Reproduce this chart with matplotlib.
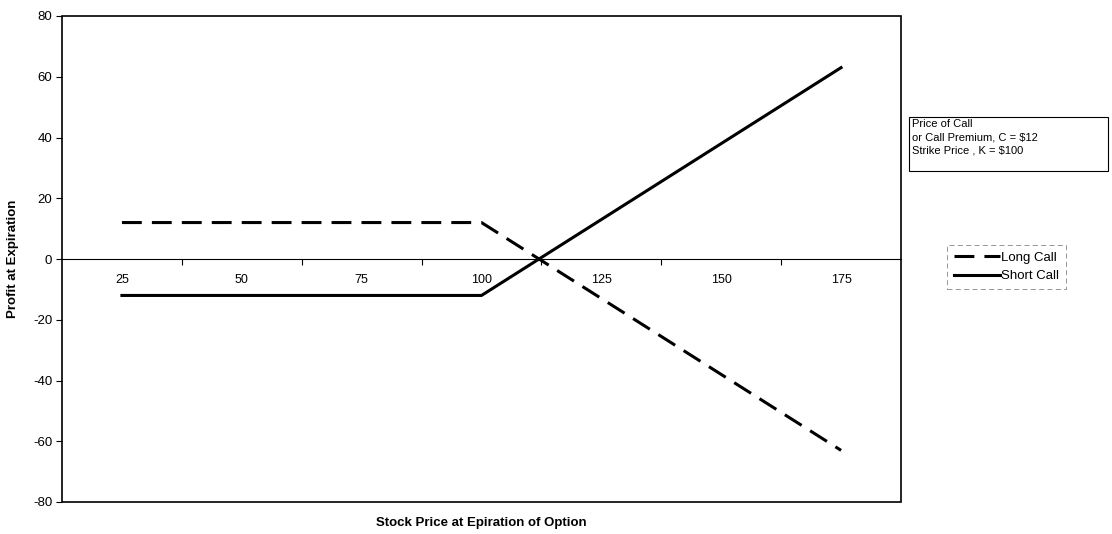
import matplotlib
matplotlib.use("Agg")
import matplotlib.pyplot as plt
from matplotlib.patches import Rectangle

plt.rcParams['font.family'] = ['Liberation Sans', 'DejaVu Sans']

# Data
stock_prices = [25, 50, 75, 100, 125, 150, 175]
long_call = [12, 12, 12, 12, -13, -38, -63]
short_call = [-12, -12, -12, -12, 13, 38, 63]
y_ticks = [-80, -60, -40, -20, 0, 20, 40, 60, 80]

fig = plt.figure(figsize=(11.12, 5.34), dpi=100)
ax = fig.add_axes([62 / 1112, 1 - 502 / 534, (901 - 62) / 1112, (502 - 16) / 534])

xpos = list(range(len(stock_prices)))
ax.plot(xpos, long_call, color='black', lw=2.2, dashes=(6.5, 3.3), label='Long Call')
ax.plot(xpos, short_call, color='black', lw=2.2, label='Short Call')

ax.set_xlim(-0.5, len(stock_prices) - 0.5)
ax.set_ylim(-80, 80)

# category axis sits on the zero line, like Excel
for side in ['top', 'right', 'left']:
    ax.spines[side].set_visible(False)
ax.spines['bottom'].set_position(('data', 0))
ax.spines['bottom'].set_linewidth(0.8)
ax.add_patch(Rectangle((0, 0), 1, 1, transform=ax.transAxes, fill=False,
                       lw=1.2, edgecolor='black', clip_on=False))

ax.set_xticks(xpos)
ax.set_xticklabels([str(p) for p in stock_prices], fontsize=9)
ax.tick_params(axis='x', which='major', length=0, pad=11)
ax.set_xticks([p + 0.5 for p in xpos[:-1]], minor=True)
ax.tick_params(axis='x', which='minor', length=4, direction='out', width=0.8)

ax.set_yticks(y_ticks)
ax.set_yticklabels([str(v) for v in y_ticks], fontsize=9.5)
ax.tick_params(axis='y', length=4, width=0.8, pad=3)

ax.set_ylabel('Profit at Expiration', fontsize=9.5, fontweight='bold', labelpad=10)
fig.text((62 + 901) / 2 / 1112, 1 - 529 / 534, 'Stock Price at Epiration of Option',
         fontsize=9.5, fontweight='bold', ha='center', va='bottom')

# note box
fig.patches.append(Rectangle((909 / 1112, 1 - 171 / 534), 199 / 1112, 54 / 534,
                             transform=fig.transFigure, fill=False, lw=0.8,
                             edgecolor='black'))
fig.text(912 / 1112, 1 - 119 / 534,
         'Price of Call\nor Call Premium, C = $12\nStrike Price , K = $100',
         fontsize=8, ha='left', va='top', linespacing=1.4)

leg = ax.legend(loc='center left', bbox_to_anchor=(947 / 1112, 1 - 267 / 534),
                bbox_transform=fig.transFigure, fontsize=9.5, frameon=True,
                fancybox=False, handlelength=3.5, handletextpad=0.1,
                borderpad=0.5, labelspacing=0.45, borderaxespad=0)
leg.get_frame().set_edgecolor('#666666')
leg.get_frame().set_linewidth(0.6)
leg.get_frame().set_linestyle((0, (6, 4)))

fig.savefig('out.png', dpi=100)
